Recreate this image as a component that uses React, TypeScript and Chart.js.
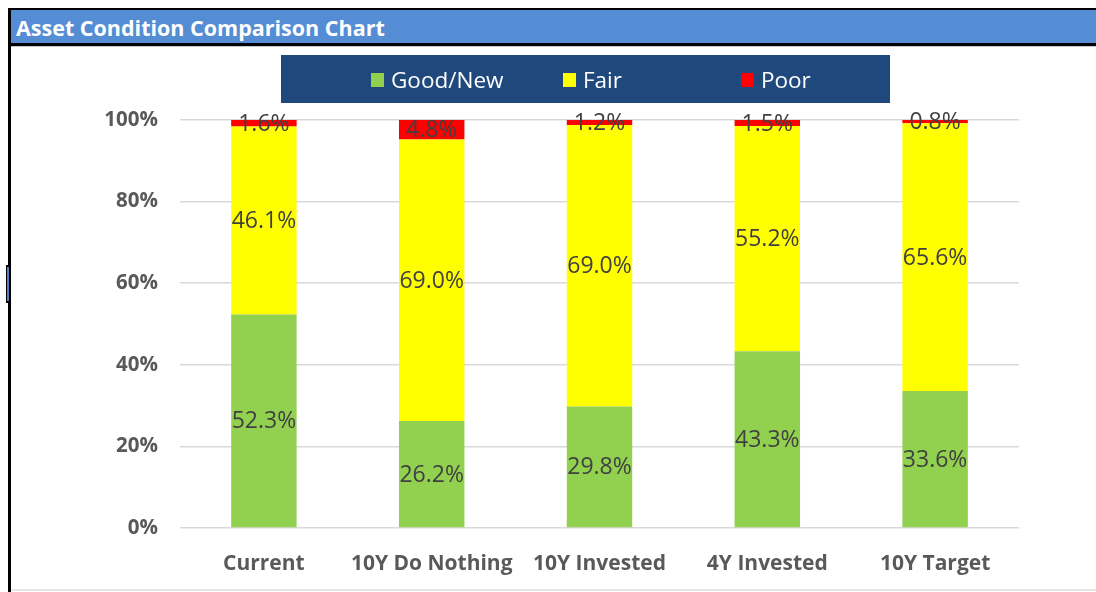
import React, { useEffect, useRef } from "react";
import { Chart, registerables } from "chart.js";

Chart.register(...registerables);

const categories = ["Current", "10Y Do Nothing", "10Y Invested", "4Y Invested", "10Y Target"];
const goodNew = [52.3, 26.2, 29.8, 43.3, 33.6];
const fair = [46.1, 69.0, 69.0, 55.2, 65.6];
const poor = [1.6, 4.8, 1.2, 1.5, 0.8];
const seriesNames = ["Good/New", "Fair", "Poor"];
const seriesColors = ["#92D050", "#FFFF00", "#FF0000"];
const yTicks = [0, 20, 40, 60, 80, 100];
const chartTitle = "Asset Condition Comparison Chart";

const FONT = "'Open Sans', 'Noto Sans', sans-serif";

const segLabels = {
  id: "segLabels",
  afterDatasetsDraw(chart: any) {
    const ctx = chart.ctx;
    ctx.save();
    ctx.font = `23px ${FONT}`;
    ctx.fillStyle = "#404040";
    ctx.textAlign = "center";
    ctx.textBaseline = "middle";
    chart.data.datasets.forEach((ds: any, i: number) => {
      const meta = chart.getDatasetMeta(i);
      meta.data.forEach((el: any, j: number) => {
        const v = ds.data[j];
        const y = (el.y + el.base) / 2;
        ctx.fillText(v.toFixed(1) + "%", el.x, y + 1);
      });
    });
    ctx.restore();
  },
};

function ChartCanvas() {
  const ref = useRef<HTMLCanvasElement>(null);
  useEffect(() => {
    if (!ref.current) return;
    const seriesData = [goodNew, fair, poor];
    const chart = new Chart(ref.current, {
      type: "bar",
      data: {
        labels: categories,
        datasets: seriesNames.map((name, i) => ({
          label: name,
          data: seriesData[i],
          backgroundColor: seriesColors[i],
          borderWidth: 0,
          barPercentage: 0.39,
          categoryPercentage: 1,
        })),
      },
      options: {
        responsive: false,
        animation: false,
        devicePixelRatio: 1,
        layout: { padding: { top: 72, right: 77, bottom: 0, left: 0 } },
        plugins: {
          legend: { display: false },
          title: { display: false },
          tooltip: { enabled: false },
        },
        scales: {
          x: {
            stacked: true,
            grid: { display: false, drawTicks: false },
            border: { display: false },
            ticks: {
              color: "#595959",
              font: { family: FONT, size: 21, weight: "bold" },
              padding: 23,
            },
            afterFit: (s: any) => {
              s.height = 62;
            },
          },
          y: {
            stacked: true,
            min: 0,
            max: 100,
            grid: { color: "#D9D9D9", lineWidth: 1.5, drawTicks: false },
            border: { display: false },
            afterBuildTicks: (s: any) => {
              s.ticks = yTicks.map((v) => ({ value: v }));
            },
            ticks: {
              color: "#595959",
              font: { family: FONT, size: 20.5, weight: "bold" },
              padding: 22,
              callback: (v: any) => v + "%",
            },
            afterFit: (s: any) => {
              s.width = 168;
            },
          },
        },
      },
      plugins: [segLabels],
    } as any);
    return () => chart.destroy();
  }, []);
  return <canvas ref={ref} width={1084} height={542} style={{ display: "block" }} />;
}

const legendLefts = [371, 563, 741];

export default function App() {
  return (
    <div
      style={{
        position: "fixed",
        left: 0,
        top: 0,
        width: 1096,
        height: 592,
        background: "#fff",
        overflow: "hidden",
        fontFamily: FONT,
      }}
    >
      <div style={{ position: "absolute", left: 8, top: 8, width: 1088, height: 2, background: "#000" }} />
      <div style={{ position: "absolute", left: 11, top: 10, width: 1085, height: 33, background: "#548DD4" }} />
      <div
        style={{
          position: "absolute",
          left: 16,
          top: 11,
          height: 33,
          lineHeight: "33px",
          fontSize: 21.5,
          fontWeight: "bold",
          color: "#fff",
          whiteSpace: "nowrap",
        }}
      >
        {chartTitle}
      </div>
      <div style={{ position: "absolute", left: 8, top: 43, width: 1088, height: 3, background: "#000" }} />
      <div style={{ position: "absolute", left: 11, top: 46, width: 1085, height: 1, background: "#c8c8c8" }} />
      <div style={{ position: "absolute", left: 8, top: 8, width: 3, height: 584, background: "#000" }} />
      <div style={{ position: "absolute", left: 6, top: 265, width: 3, height: 38, background: "#000" }} />
      <div style={{ position: "absolute", left: 7, top: 267, width: 2, height: 34, background: "#4F81BD" }} />
      <div style={{ position: "absolute", left: 11, top: 589, width: 1085, height: 2, background: "#e6e6e6" }} />
      <div style={{ position: "absolute", left: 12, top: 48 }}>
        <ChartCanvas />
      </div>
      <div
        style={{
          position: "absolute",
          left: 281,
          top: 55,
          width: 609,
          height: 48,
          background: "#1F497D",
        }}
      >
        {seriesNames.map((name, i) => (
          <div
            key={name}
            style={{
              position: "absolute",
              left: legendLefts[i] - 281,
              top: 1,
              height: 48,
              display: "flex",
              alignItems: "center",
              whiteSpace: "nowrap",
            }}
          >
            <span
              style={{
                display: "inline-block",
                width: 13,
                height: 14,
                background: seriesColors[i],
                marginRight: 7,
              }}
            />
            <span style={{ color: "#fff", fontSize: 22.5, lineHeight: "48px" }}>{name}</span>
          </div>
        ))}
      </div>
    </div>
  );
}
